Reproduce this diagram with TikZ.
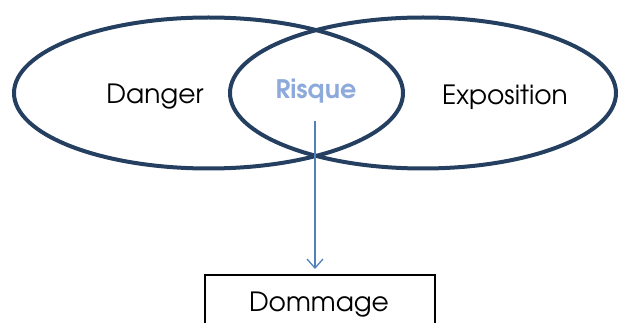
\documentclass[tikz,border=0pt]{standalone}
\usepackage{fontspec}
\setmainfont{texgyreadventor-regular.otf}[BoldFont=texgyreadventor-bold.otf]
\usetikzlibrary{arrows.meta}
\definecolor{ringblue}{HTML}{243F60}
\definecolor{riskblue}{HTML}{8EAADB}
\definecolor{arrowblue}{HTML}{4F81BD}
\begin{document}
\begin{tikzpicture}[x=1pt,y=-1pt,
  ring/.style={draw=ringblue,line width=4pt},
  label/.style={font=\fontsize{26.5}{30}\selectfont,text=black},
  flow/.style={draw=arrowblue,line width=1.3pt,-{Straight Barb[length=9pt,width=16pt,line width=1.3pt]}},
  outcome/.style={draw=black,line width=1.6pt}]
\useasboundingbox (0,0) rectangle (622,323);
\clip (0,0) rectangle (622,323);
% the two overlapping sets
\draw[ring] (208.5,93) ellipse [x radius=194.5,y radius=75.5];
\draw[ring] (423,93) ellipse [x radius=193,y radius=75.5];
% set labels
\node[label] (danger) at (155,97) {Danger};
\node[label] (expo) at (505,97) {Exposition};
\node[font=\fontsize{25.5}{29}\selectfont\bfseries,text=riskblue] (risk) at (316,91.5) {Risque};
% outcome box, running past the lower edge
\draw[outcome] (205,275) rectangle (435,340);
\node[label] (harm) at (319,305) {Dommage};
\coordinate (start) at (315,121);
\coordinate (end) at (315,269);
\draw[flow] (start) -- (end);
\end{tikzpicture}
\end{document}
